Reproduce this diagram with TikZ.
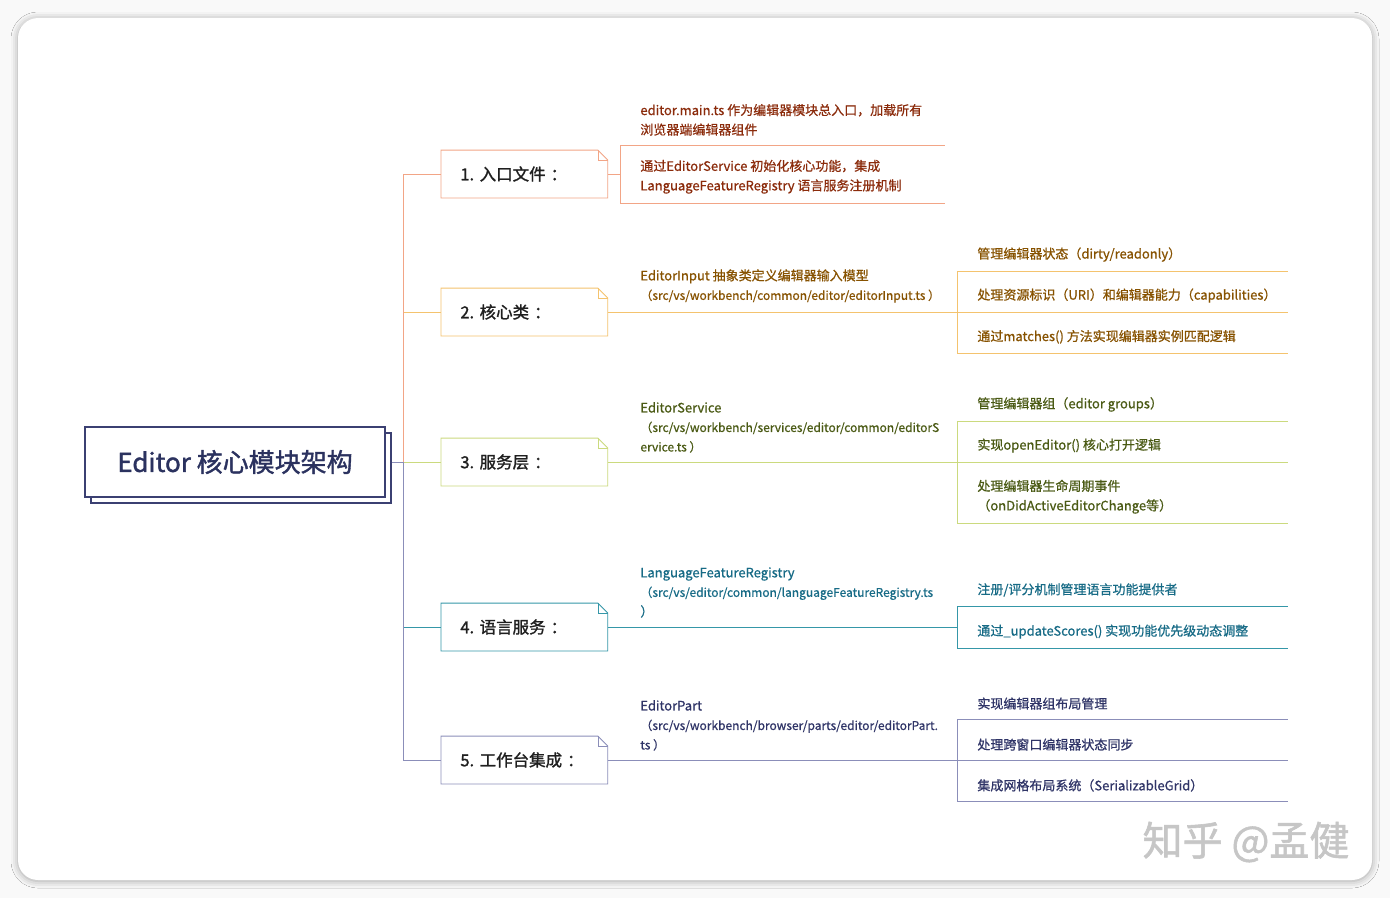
\documentclass[tikz,border=0pt]{standalone}
\usepackage{fontspec}
\setmainfont{Noto Sans CJK SC}
\newfontfamily\txtfont{Noto Sans CJK SC}[FakeBold=0.7]
\newfontfamily\lblfont{Noto Sans CJK SC}[FakeBold=1.4]
\frenchspacing
\usetikzlibrary{positioning,shadows,shadows.blur}
% colours of the five branches
\definecolor{rootline}{HTML}{3B4072}
\definecolor{roottext}{HTML}{2B325F}
\definecolor{lnA}{HTML}{F2A586}\definecolor{txA}{HTML}{8B2B0B}
\definecolor{lnB}{HTML}{F4C36E}\definecolor{txB}{HTML}{875200}
\definecolor{lnC}{HTML}{CBDA7E}\definecolor{txC}{HTML}{4A5A14}
\definecolor{lnD}{HTML}{3597A8}\definecolor{txD}{HTML}{176B86}
\definecolor{lnE}{HTML}{8B8EB9}\definecolor{txE}{HTML}{2F3467}
\newcommand{\pth}{\fontsize{12}{19.5}\selectfont}
\tikzset{
  rootbox/.style={draw=rootline,line width=1.6pt,fill=white,minimum width=300pt,minimum height=70pt,
    text=roottext,font=\lblfont\fontsize{26}{30}\selectfont,
    copy shadow={shadow xshift=6pt,shadow yshift=-6pt,draw=rootline,fill=white,line width=1.2pt}},
  notebox/.style={anchor=west,minimum width=166pt,minimum height=47pt,inner xsep=19pt,text width=128pt,
    align=left,text=black!88,font=\lblfont\fontsize{16.5}{20}\selectfont},
  leaf/.style={anchor=south west,inner xsep=20pt,inner ysep=9pt,align=left,text=#1,
    font=\txtfont\fontsize{13}{19.5}\selectfont},
  midtext/.style={anchor=south west,inner xsep=0pt,inner ysep=9pt,align=left,text=#1,
    font=\txtfont\fontsize{13}{19.5}\selectfont},
}
% note outline with a folded corner
\newcommand{\foldnote}[2]{%
  \draw[#2] (#1.south west) -- (#1.north west) -- ([xshift=-10pt]#1.north east)
    -- ([yshift=-10pt]#1.north east) -- (#1.south east) -- cycle;
  \draw[#2,line width=0.6pt] ([xshift=-10pt]#1.north east) -- ([xshift=-10pt,yshift=-10pt]#1.north east)
    -- ([yshift=-10pt]#1.north east);}
\begin{document}
\begin{tikzpicture}[x=1pt,y=-1pt,line width=0.8pt]
\useasboundingbox (0,0) rectangle (1390,898);
\fill[gray!5] (0,0) rectangle (1390,898);
\fill[white,rounded corners=20pt,blur shadow={shadow xshift=0pt,shadow yshift=-1pt,shadow blur radius=7pt,shadow opacity=35}] (18,18) rectangle (1372,880);

% root and the five branches
\node[rootbox] (r) at (235,462) {Editor 核心模块架构};
\node[notebox] (b1) at (441,174) {1. 入口文件\hspace{0.3em}：};
\node[notebox] (b2) at (441,312) {2. 核心类\hspace{0.3em}：};
\node[notebox] (b3) at (441,462) {3. 服务层\hspace{0.3em}：};
\node[notebox] (b4) at (441,627) {4. 语言服务\hspace{0.3em}：};
\node[notebox] (b5) at (441,760) {5. 工作台集成\hspace{0.3em}：};
\foldnote{b1}{lnA}\foldnote{b2}{lnB}\foldnote{b3}{lnC}\foldnote{b4}{lnD}\foldnote{b5}{lnE}

\coordinate (t) at (403,462);
\coordinate (endA) at (945,0);
\coordinate (endR) at (1288,0);

% 1
\node[leaf=txA] (l11) at (620,145) {editor.main.ts 作为编辑器模块总入口，加载所有\\浏览器端编辑器组件};
\node[leaf=txA] (l12) at (620,203) {通过EditorService 初始化核心功能，集成\\LanguageFeatureRegistry 语言服务注册机制};
% 2
\node[midtext=txB] (m2) at (640,312) {EditorInput 抽象类定义编辑器输入模型\\{\pth（src/vs/workbench/common/editor/editorInput.ts ）}};
\node[leaf=txB] (l21) at (957,271) {管理编辑器状态（dirty/readonly）};
\node[leaf=txB] (l22) at (957,312) {处理资源标识（URI）和编辑器能力（capabilities）};
\node[leaf=txB] (l23) at (957,353) {通过matches() 方法实现编辑器实例匹配逻辑};
% 3
\node[midtext=txC] (m3) at (640,462) {EditorService\\{\pth（src/vs/workbench/services/editor/common/editorS}\\{\pth ervice.ts ）}};
\node[leaf=txC] (l31) at (957,421) {管理编辑器组（editor groups）};
\node[leaf=txC] (l32) at (957,462) {实现openEditor() 核心打开逻辑};
\node[leaf=txC] (l33) at (957,523) {处理编辑器生命周期事件\\（onDidActiveEditorChange等）};
% 4
\node[midtext=txD] (m4) at (640,627) {LanguageFeatureRegistry\\{\pth（src/vs/editor/common/languageFeatureRegistry.ts}\\）};
\node[leaf=txD] (l41) at (957,606) {注册/评分机制管理语言功能提供者};
\node[leaf=txD] (l42) at (957,648) {通过\_updateScores() 实现功能优先级动态调整};
% 5
\node[midtext=txE] (m5) at (640,760) {EditorPart\\{\pth（src/vs/workbench/browser/parts/editor/editorPart.}\\{\pth ts ）}};
\node[leaf=txE] (l51) at (957,719) {实现编辑器组布局管理};
\node[leaf=txE] (l52) at (957,760) {处理跨窗口编辑器状态同步};
\node[leaf=txE] (l53) at (957,801) {集成网格布局系统（SerializableGrid）};

% trunk
\draw[lnE] ([xshift=6pt]r.east) -- (t);
\draw[lnC] (t) -- (b3.west);
\draw[lnB] (t) |- (b2.west);
\draw[lnD] (t) |- (b4.west);
\draw[lnA] (t) |- (b1.west);
\draw[lnE] (t) |- (b5.west);

% branch lines
\draw[lnA] (b1.east) -- (b1.east -| l11.south west);
\draw[lnA] (l11.south west) -- (l12.south west);
\foreach \n in {l11,l12} \draw[lnA] (\n.south west) -- (\n.south west -| endA);
\draw[lnB] (b2.east) -- (b2.east -| l22.south west);
\draw[lnB] (l21.south west) -- (l23.south west);
\draw[lnC] (b3.east) -- (b3.east -| l32.south west);
\draw[lnC] (l31.south west) -- (l33.south west);
\draw[lnD] (b4.east) -- (b4.east -| l41.south west);
\draw[lnD] (l41.south west) -- (l42.south west);
\draw[lnE] (b5.east) -- (b5.east -| l52.south west);
\draw[lnE] (l51.south west) -- (l53.south west);
\foreach \n/\c in {l21/lnB,l22/lnB,l23/lnB,l31/lnC,l32/lnC,l33/lnC,l41/lnD,l42/lnD,l51/lnE,l52/lnE,l53/lnE}
  \draw[\c] (\n.south west) -- (\n.south west -| endR);

\node[text=gray!45,font=\lblfont\fontsize{40}{40}\selectfont] (wm) at (1246,842) {知乎 @孟健};
\end{tikzpicture}
\end{document}
